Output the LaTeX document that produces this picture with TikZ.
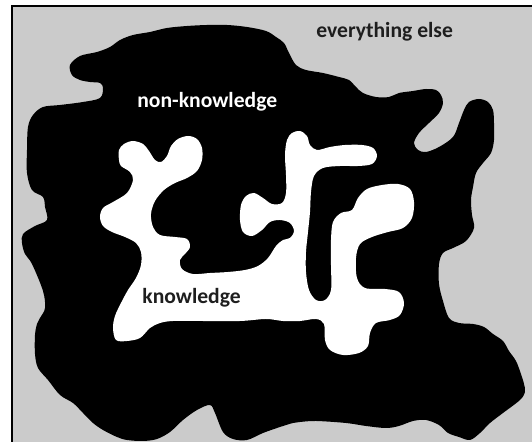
\documentclass[tikz,border=0pt]{standalone}
\usepackage{fontspec}
\setmainfont{Carlito}
\usepackage{tikz}

\definecolor{elsegray}{RGB}{203,203,203}
\definecolor{inkdark}{RGB}{30,30,30}

\begin{document}
\begin{tikzpicture}[
   x=.5pt,y=-.5pt,
   every node/.style={font=\bfseries\fontsize{10.8}{13}\selectfont},
   area/.style={draw=none,fill=elsegray},
   frame/.style={draw=black,line width=1pt},
   nonknow/.style={fill=black},
   know/.style={fill=white},
   label/.style={inner sep=0pt,anchor=base west}
 ]
  \useasboundingbox (0,0) rectangle (532,442);
  \fill[white] (0,0) rectangle (532,442);

  % everything else: the gray field with its two framed sides
  \path[area] (12,6) rectangle (532,442);
  \draw[frame] (12,442) |- (532,6);

  % non-knowledge: the black blob
  \path[nonknow] plot[smooth cycle,tension=.55] coordinates {
    (70,65) (80,56) (97,52) (110,47) (120,40) (133,35) (150,32) (167,28)
    (187,26) (207,25) (227,25) (247,27) (266,31) (276,37) (284,43) (289,53)
    (296,65) (306,70) (323,73) (339,77) (349,80) (356,87) (363,93) (376,97)
    (389,97) (399,93) (413,91) (426,89) (436,90) (441,95) (443,103) (439,113)
    (429,123) (419,133) (414,143) (418,150) (426,152) (439,147) (453,137)
    (459,123) (464,110) (469,102) (479,99) (488,102) (493,110) (494,123)
    (494,140) (491,153) (483,163) (476,173) (473,187) (471,200) (472,215)
    (474,228) (466,241) (453,248) (443,253) (439,264) (439,284) (443,301)
    (449,318) (459,323) (473,324) (484,327) (493,334) (503,341) (509,351)
    (516,361) (521,374) (524,384) (525,392) (520,400) (503,413) (490,423)
    (480,433) (470,440) (459,437) (448,433) (439,425) (426,420) (413,421)
    (399,426) (386,428) (366,426) (346,423) (316,421) (300,422) (293,423)
    (280,427) (263,433) (247,440) (233,439) (223,432) (215,413) (210,405)
    (197,410) (183,420) (170,432) (157,439) (143,441) (127,440) (117,437)
    (103,430) (93,423) (83,413) (73,403) (60,395) (48,380) (38,368) (35,354)
    (35,335) (37,324) (40,318) (45,308) (43,291) (32,264) (25,254) (22,243)
    (23,234) (35,226) (47,220) (45,207) (43,197) (32,190) (27,173) (27,150)
    (28,127) (33,115) (43,107) (60,105) (83,102) (100,98) (103,88) (100,83)
    (90,82) (80,80) (72,75)};

  % knowledge: the white blob inside it
  \path[know] plot[smooth cycle,tension=.55] coordinates {
    (119,160) (119,150) (124,144) (133,141) (143,144) (149,151) (155,160)
    (161,162) (167,156) (171,146) (178,139) (188,136) (197,139) (202,148)
    (202,160) (197,171) (187,178) (175,183) (164,190) (155,201) (151,214)
    (153,227) (160,235) (175,237) (187,239) (190,247) (185,254) (180,260)
    (182,269) (193,274) (210,273) (228,272) (245,270) (258,266) (268,258)
    (276,246) (283,240) (290,238) (294,231) (290,223) (280,220) (270,222)
    (262,230) (252,236) (243,232) (240,220) (241,205) (246,196) (254,193)
    (263,198) (272,204) (282,203) (286,193) (286,175) (285,155) (287,140)
    (292,133) (300,131) (307,136) (310,145) (317,150) (330,147) (345,145)
    (362,145) (373,148) (377,156) (372,164) (358,166) (340,166) (323,168)
    (314,176) (311,192) (310,212) (308,232) (306,252) (306,272) (309,290)
    (316,300) (325,300) (331,290) (331,265) (331,240) (333,222) (341,213)
    (352,210) (358,198) (367,189) (382,185) (398,184) (410,189) (414,202)
    (412,218) (403,228) (388,232) (372,237) (360,244) (356,258) (357,278)
    (365,288) (385,289) (399,292) (404,303) (400,315) (390,320) (376,323)
    (370,333) (368,346) (359,353) (343,355) (330,350) (325,340) (324,324)
    (316,319) (300,321) (283,321) (266,319) (240,321) (200,321) (173,321)
    (160,323) (150,328) (140,338) (127,341) (116,340) (113,328) (115,316)
    (121,303) (128,290) (136,278) (141,265) (141,252) (136,243) (125,237)
    (112,232) (103,226) (100,217) (103,208) (113,202) (127,193) (133,180)
    (130,172) (121,166)};

  % The three labels.
  \node[label,text=inkdark] (else) at (316,38) {everything else};
  \node[label,text=white] (nonknowledge) at (137,108) {non-knowledge};
  \node[label,text=inkdark] (knowledge) at (142,304) {knowledge};
\end{tikzpicture}
\end{document}
